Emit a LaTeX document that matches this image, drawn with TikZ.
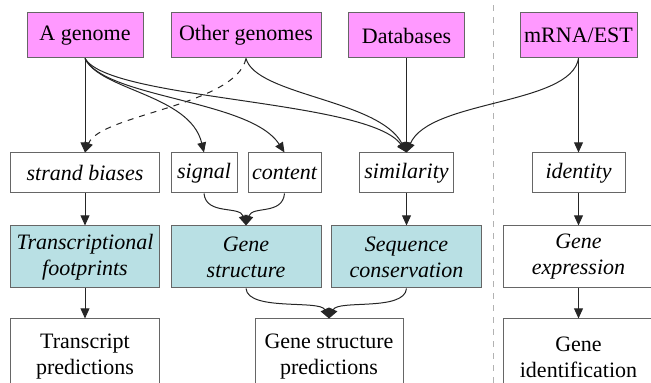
\documentclass[tikz,border=0pt]{standalone}
\usepackage{fontspec}
\setmainfont{Liberation Serif}
\usetikzlibrary{arrows.meta}

\definecolor{srcpink}{RGB}{255,153,255}
\definecolor{modelcyan}{RGB}{185,224,228}
\newcommand\diafont{\fontsize{11}{13}\selectfont}

\begin{document}
\begin{tikzpicture}[x=0.5pt, y=0.5pt, font=\diafont,
  box/.style={draw=black!60, line width=0.5pt, inner sep=1pt, align=center},
  source/.style={box, fill=srcpink, minimum height=22.5pt},
  feature/.style={box, minimum height=20pt, font=\diafont\itshape},
  model/.style={box, fill=#1, minimum height=31pt, font=\diafont\itshape},
  model/.default=modelcyan,
  result/.style={box, minimum height=38pt},
  edge/.style={draw=black!85, line width=0.5pt, -{Triangle[length=5pt,width=4.4pt]}}]
  \useasboundingbox (0,0) rectangle (651,383);
  \clip (0,0) rectangle (651,383);

  % trennlinie
  \draw[black!30, dashed, line width=0.5pt] (493,0) -- (493,383);

  % quellen
  \node[source, minimum width=58pt] (genome) at (85,347.5) {A genome};
  \node[source, minimum width=75pt] (others) at (246,347.5) {Other genomes};
  \node[source, minimum width=58pt] (dbases) at (406.5,347.5) {Databases};
  \node[source, minimum width=58.5pt] (mrna) at (578.5,347.5) {mRNA/EST};

  % merkmale
  \node[feature, minimum width=74.5pt] (strand) at (85,210) {strand biases};
  \node[feature, minimum width=33pt] (signal) at (204,210) {signal};
  \node[feature, minimum width=36.5pt] (content) at (284.5,210) {content};
  \node[feature, minimum width=47pt] (similar) at (406.5,210) {similarity};
  \node[feature, minimum width=46.5pt] (ident) at (578.5,210) {identity};

  % modelle
  \node[model, minimum width=74.5pt] (footpr) at (85,126) {Transcriptional\\footprints};
  \node[model, minimum width=75pt] (genestr) at (246,126) {Gene\\structure};
  \node[model, minimum width=75pt] (seqcons) at (406.5,126) {Sequence\\conservation};
  \node[model=white, minimum width=75pt] (express) at (578.5,126) {Gene\\expression};

  % ergebnisse
  \node[result, minimum width=74.5pt] (transpr) at (85,26) {Transcript\\predictions};
  \node[result, minimum width=74pt] (genepr) at (329,26) {Gene structure\\predictions};
  \node[result, minimum width=75pt] (geneid) at (578.5,26) {Gene\\identification};

  % kanten oben
  \draw[edge] (genome) -- (strand);
  \draw[edge] (genome.south) .. controls +(15,-32) and +(-14,58) .. (signal.north);
  \draw[edge] (genome.south) .. controls +(20,-40) and +(-34,53) .. (content.north);
  \draw[edge] (genome.south) .. controls +(25,-42) and +(-37,53) .. (similar.north);
  \draw[edge, dashed] (others.south) .. controls +(-10,-47) and +(15,38) .. (strand.north);
  \draw[edge] (others.south) .. controls +(10,-37) and +(-27,53) .. (similar.north);
  \draw[edge] (dbases) -- (similar);
  \draw[edge] (mrna.south) .. controls +(-8,-47) and +(23,53) .. (similar.north);
  \draw[edge] (mrna) -- (ident);

  % kanten mitte
  \draw[edge] (strand) -- (footpr);
  \draw[edge] (signal.south) .. controls +(2,-22) and +(-6,20) .. (genestr.north);
  \draw[edge] (content.south) .. controls +(-2,-22) and +(6,20) .. (genestr.north);
  \draw[edge] (similar) -- (seqcons);
  \draw[edge] (ident) -- (express);

  % kanten unten
  \draw[edge] (footpr) -- (transpr);
  \draw[edge] (genestr.south) .. controls +(2,-23) and +(-9,19) .. (genepr.north);
  \draw[edge] (seqcons.south) .. controls +(-2,-23) and +(9,19) .. (genepr.north);
  \draw[edge] (express) -- (geneid);
\end{tikzpicture}
\end{document}
